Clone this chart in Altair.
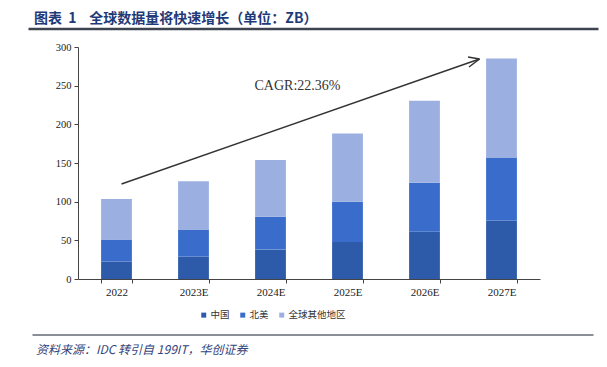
import altair as alt
import pandas as pd

years = ["2022", "2023E", "2024E", "2025E", "2026E", "2027E"]
china = [22.5, 29, 38, 48, 61, 75.5]
north_america = [28.5, 35, 42.5, 52, 63.5, 81]
rest_of_world = [52.5, 62.5, 73.5, 88, 106, 128.5]
series_names = ["中国", "北美", "全球其他地区"]
series_colors = ["#2d5aa9", "#3a6ccc", "#9bb0e0"]
y_ticks = [0, 50, 100, 150, 200, 250, 300]

title_text = "图表\u00a0\u00a01\u00a0\u00a0\u00a0\u00a0全球数据量将快速增长（单位：ZB）"
source_text = "资料来源：IDC 转引自 199IT，华创证券"
cagr_text = "CAGR:22.36%"

rows = []
for i, y in enumerate(years):
    for k, (name, vals) in enumerate(zip(series_names, [china, north_america, rest_of_world])):
        rows.append({"year": y, "series": name, "value": vals[i], "order": k})
df = pd.DataFrame(rows)

W, H = 462, 232

bars = alt.Chart(df).mark_bar().encode(
    x=alt.X("year:N", sort=years, title=None,
            scale=alt.Scale(paddingInner=0.6, paddingOuter=0.3),
            axis=alt.Axis(labelAngle=0, tickBand="extent", tickSize=4, labelPadding=3,
                          labelFont="Liberation Serif", labelFontSize=11, labelColor="#222",
                          domainColor="#444", tickColor="#444")),
    y=alt.Y("value:Q", title=None,
            scale=alt.Scale(domain=[0, 300], nice=False),
            axis=alt.Axis(values=y_ticks, grid=False, tickSize=4, labelPadding=3,
                          labelFont="Liberation Serif", labelFontSize=10.5, labelColor="#222",
                          domainColor="#444", tickColor="#444")),
    color=alt.Color("series:N", scale=alt.Scale(domain=series_names, range=series_colors),
                    legend=alt.Legend(title=None, orient="none", direction="horizontal",
                                      legendX=121, legendY=263, symbolType="square",
                                      symbolSize=25, symbolStrokeWidth=0, labelFontSize=9.5,
                                      labelFont="Noto Sans CJK SC", labelColor="#333",
                                      columnPadding=8, labelOffset=2)),
    order=alt.Order("order:Q"),
)

one = alt.Data(values=[{}])

def line(x1, y1, x2, y2, color, width):
    return alt.Chart(one).mark_rule(color=color, strokeWidth=width).encode(
        x=alt.value(x1), y=alt.value(y1), x2=alt.value(x2), y2=alt.value(y2))

def text(t, x, y, **kw):
    return alt.Chart(one).mark_text(**kw).encode(
        x=alt.value(x), y=alt.value(y), text=alt.value(t))

arrow = line(43.5, 137, 401.5, 12, "#333", 1.5)
head1 = line(401.5, 12, 391, 20, "#333", 1.5)
head2 = line(401.5, 12, 390, 10, "#333", 1.5)

title = text(title_text, -44, -28, align="left", baseline="middle", fontSize=14,
             fontWeight="bold", font="Noto Sans CJK SC", color="#1f3a78")
title_rule = line(-49.5, -18, 520.5, -18, "#3d4450", 2.5)
bottom_rule = line(-45.5, 288, 515.5, 288, "#8a8f96", 2)
source = text(source_text, -42, 303, align="left", baseline="middle", fontSize=12,
              fontStyle="italic", font="Noto Sans CJK SC", color="#34447a")
cagr = text(cagr_text, 176.5, 39, align="left", baseline="middle", fontSize=14,
            font="Liberation Serif", color="#333")

chart = alt.layer(bars, arrow, head1, head2, title, title_rule, bottom_rule, source, cagr).properties(
    width=W, height=H,
    autosize="none",
    padding={"left": 70, "top": 39, "right": 59, "bottom": 80},
    background="white",
).configure_view(stroke=None)

chart.save("out.html", embed_options={"renderer": "svg", "actions": False})
